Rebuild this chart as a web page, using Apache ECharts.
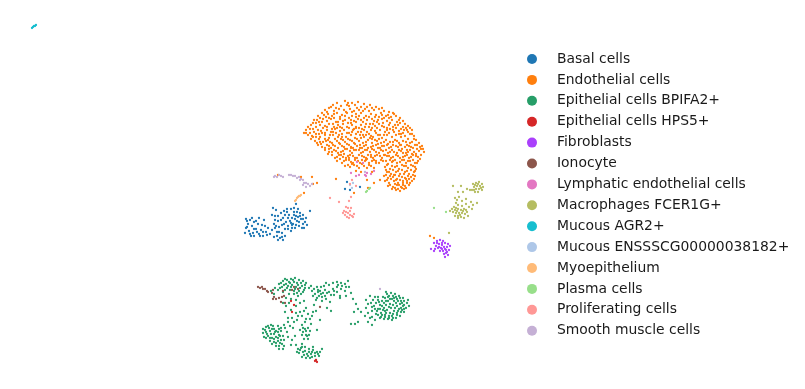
<!DOCTYPE html>
<html>
<head>
<meta charset="utf-8">
<script src="https://cdn.jsdelivr.net/npm/echarts@6/dist/echarts.min.js"></script>
<style>
  html, body { margin: 0; background: #fff; }
  #chart { width: 805px; height: 389px; }
</style>
</head>
<body>
<div id="chart"></div>
<script>
// values, embedding units = picture position
const basal = [[246,228],[245,233],[248,224],[250,220],[252,226],[249,231],[253,233],[256,221],[258,224],[256,229],[259,234],[261,230],[263,236],[262,225],[266,232],[268,228],[270,234],[264,220],[272,230],[275,228],[277,236],[280,238],[283,240],[285,236],[275,216],[278,221],[272,215],[274,224],[279,227],[276,210],[281,213],[284,211],[283,218],[286,222],[282,225],[288,226],[291,231],[289,215],[292,218],[290,221],[294,212],[296,216],[293,224],[297,221],[299,226],[301,219],[303,224],[305,222],[307,225],[300,213],[298,209],[303,215],[294,208],[287,209],[306,218],[285,229],[295,228],[310,211],[273,208],[296,204],[265,226],[259,218],[254,236],[247,221],[282,233],[252,218],[292,225],[298,217],[302,228],[288,218],[281,220],[277,232],[350,190],[347,182],[345,189],[360,187],
  [247,227],[250,234],[254,229],[251,236],[257,232],[260,236],[263,232],[267,235],[246,219],[254,222],[278,216],[285,215],[287,212],[291,209],[294,215],[297,212],[300,216],[303,219],[299,222],[295,219],[291,223],[288,229],[284,224],[279,232],[275,220],[276,226],[304,228],[296,225],[292,228],[282,237],[278,240],[274,237]];
const endothelial = [[337,103],[345,101],[352,103],[358,102],[364,104],[341,106],[349,106],[355,105],[361,107],[370,105],[376,107],[331,107],[325,110],[329,108],[334,111],[339,109],[344,110],[350,109],[354,111],[359,110],[365,109],[369,111],[374,110],[379,109],[384,111],[389,112],[393,113],[322,113],[318,116],[324,115],[328,114],[332,116],[337,113],[342,115],[347,113],[352,116],[356,114],[361,113],[366,116],[371,114],[376,115],[381,113],[386,116],[391,117],[396,116],[400,118],[314,120],[319,122],[323,119],[327,121],[331,119],[336,122],[340,119],[345,120],[349,118],[354,121],[358,119],[363,122],[367,120],[372,119],[377,122],[382,119],[387,121],[392,120],[397,122],[403,121],[311,125],[316,127],[320,125],[325,126],[329,124],[334,127],[338,125],[343,124],[347,127],[352,125],[356,127],[361,125],[365,127],[370,124],[375,126],[379,124],[384,127],[389,125],[393,127],[398,125],[403,127],[408,126],[306,130],[310,129],[314,132],[318,130],[322,133],[327,130],[331,132],[335,129],[340,131],[344,130],[349,133],[353,130],[358,132],[362,129],[367,132],[371,130],[376,133],[380,130],[385,132],[390,129],[399,131],[404,130],[408,132],[412,130],[304,133],[308,135],[312,136],[316,134],[320,137],[325,135],[329,138],[333,135],[338,137],[342,134],[346,137],[351,135],[355,138],[360,135],[364,137],[369,134],[373,137],[378,135],[382,138],[387,135],[392,137],[396,135],[401,137],[405,136],[410,134],[414,136],[311,139],[315,141],[319,139],[323,142],[328,140],[332,143],[337,141],[341,139],[345,142],[350,140],[354,143],[359,141],[363,143],[368,140],[372,143],[377,141],[381,143],[386,140],[390,142],[395,140],[399,143],[403,141],[408,139],[412,142],[416,140],[419,143],[318,145],[322,147],[327,145],[331,148],[335,146],[340,144],[344,147],[349,145],[353,148],[357,146],[362,148],[366,145],[371,147],[376,145],[380,148],[384,146],[389,148],[393,145],[398,147],[402,149],[407,145],[411,147],[415,145],[420,147],[423,149],[325,150],[329,152],[334,150],[338,153],[343,151],[347,149],[352,153],[356,150],[361,153],[365,150],[370,152],[374,150],[379,153],[383,151],[388,153],[392,150],[397,153],[401,151],[406,153],[410,150],[414,152],[419,151],[424,152],[332,155],[337,157],[341,155],[346,158],[350,155],[355,158],[359,155],[364,157],[368,155],[373,158],[377,155],[382,158],[387,156],[391,158],[396,155],[400,158],[405,156],[409,158],[413,155],[418,157],[421,155],[337,161],[342,163],[346,160],[351,162],[355,160],[360,163],[365,161],[369,163],[374,160],[379,163],[383,161],[388,164],[393,161],[397,163],[402,160],[406,163],[410,161],[415,163],[418,161],[345,166],[350,167],[354,165],[359,168],[364,166],[369,165],[374,168],[385,167],[390,169],[395,167],[399,169],[404,166],[408,168],[413,166],[416,169],[356,171],[361,172],[372,172],[387,172],[391,174],[396,172],[400,174],[405,172],[409,174],[414,172],[384,176],[388,178],[393,177],[397,179],[402,177],[406,179],[411,177],[415,176],[385,181],[389,183],[394,181],[398,183],[403,181],[407,183],[412,181],[388,186],[393,187],[397,185],[401,187],[405,186],[409,185],[396,190],[400,191],[404,189],[392,189],[352,112],[334,118],[348,123],[372,139],[360,148],[343,157],[333,132],[316,123],[310,133],[326,141],[339,135],[356,128],[375,117],[387,130],[384,155],[366,160],[351,148],[340,127],[329,146],[378,148],[392,162],[407,150],[401,134],[394,175],[403,185],[369,127],[382,115],[347,105],[356,117],[363,135],[349,158],[371,155],[319,134],[301,177],[312,177],[317,183],[313,184],[278,175],[304,193],[336,179],[367,180],[368,188],[374,183],[380,180],[354,193],[434,238],[430,236],
  [333,105],[348,103],[367,107],[327,112],[336,108],[346,112],[357,108],[363,111],[372,108],[382,108],[388,115],[320,118],[326,117],[334,114],[340,117],[345,116],[351,120],[359,116],[364,118],[369,117],[374,121],[379,117],[384,118],[389,118],[394,114],[399,120],[313,123],[317,120],[322,122],[329,118],[333,124],[338,122],[343,121],[351,123],[356,122],[361,120],[366,124],[373,124],[378,120],[383,123],[390,123],[395,125],[400,123],[405,124],[308,127],[313,129],[323,128],[327,127],[332,129],[337,128],[342,128],[349,128],[354,129],[359,128],[364,130],[372,128],[377,128],[382,126],[387,128],[393,130],[396,128],[401,129],[406,128],[410,128],[306,133],[316,137],[321,131],[325,133],[330,135],[336,133],[342,137],[347,133],[352,132],[356,134],[361,132],[366,135],[371,136],[375,131],[380,135],[384,135],[389,133],[394,132],[399,134],[403,133],[407,130],[412,134],[313,137],[317,143],[321,144],[325,139],[330,142],[335,139],[339,143],[343,140],[348,139],[352,141],[357,139],[361,138],[366,142],[370,138],[375,140],[379,139],[384,142],[388,144],[393,142],[397,141],[401,145],[406,142],[410,143],[414,139],[417,145],[320,142],[325,148],[329,149],[333,145],[338,148],[342,146],[347,144],[351,147],[355,144],[360,145],[364,146],[368,148],[373,146],[378,144],[382,146],[387,145],[391,147],[396,146],[400,145],[405,147],[409,146],[413,148],[417,149],[422,146],[328,154],[332,152],[336,151],[341,152],[345,149],[350,151],[354,150],[359,150],[363,152],[367,150],[372,149],[376,152],[381,150],[386,150],[390,152],[394,152],[399,150],[403,153],[408,152],[412,154],[416,154],[421,149],[335,158],[339,155],[344,154],[348,156],[353,156],[357,158],[362,156],[366,158],[371,157],[375,156],[380,156],[385,155],[389,156],[393,157],[398,156],[403,157],[407,155],[411,157],[416,156],[420,159],[340,159],[344,161],[349,160],[353,163],[358,161],[362,160],[367,159],[372,161],[376,161],[381,160],[386,161],[390,160],[395,160],[400,162],[404,160],[408,161],[413,160],[417,163],[348,165],[352,164],[357,166],[362,164],[367,168],[371,166],[376,163],[387,165],[392,166],[397,166],[402,165],[406,166],[411,165],[415,167],[386,170],[389,172],[393,170],[398,171],[402,170],[407,171],[411,170],[415,171],[386,175],[390,176],[395,175],[399,176],[404,174],[408,176],[413,175],[387,180],[391,179],[396,180],[400,180],[405,178],[409,179],[414,179],[390,185],[395,184],[399,185],[403,183],[407,181],[410,183],[395,188],[398,189],[402,188],[406,188]];
const bpifa = [[271,291],[275,288],[279,284],[283,281],[287,280],[291,279],[295,278],[299,280],[303,281],[306,283],[274,294],[278,290],[282,287],[286,284],[290,283],[294,282],[298,285],[302,286],[305,288],[283,292],[287,288],[291,287],[295,289],[299,291],[303,292],[289,294],[294,294],[298,296],[286,298],[291,299],[296,300],[283,303],[309,288],[312,291],[315,294],[318,290],[321,287],[325,290],[329,285],[333,283],[337,282],[341,283],[345,284],[349,287],[313,296],[317,298],[321,294],[325,296],[329,292],[333,289],[337,287],[341,289],[345,291],[326,299],[322,301],[330,302],[334,295],[340,296],[346,296],[351,293],[318,292],[324,286],[337,292],[353,299],[356,304],[358,309],[361,312],[354,312],[358,322],[351,324],[355,324],[365,316],[368,322],[372,325],[370,318],[375,320],[366,300],[371,303],[375,297],[379,302],[383,297],[387,294],[391,293],[395,294],[399,296],[403,298],[407,303],[409,306],[374,306],[378,309],[382,306],[386,301],[390,299],[394,301],[398,301],[402,303],[406,308],[404,312],[400,316],[396,318],[392,320],[388,319],[384,319],[380,318],[376,314],[372,311],[381,313],[385,311],[389,307],[393,305],[397,306],[401,308],[385,315],[390,313],[394,311],[398,311],[403,306],[378,300],[386,305],[392,316],[388,297],[396,297],[383,310],[375,309],[401,301],[366,308],[370,296],[286,306],[291,310],[296,306],[300,303],[304,301],[292,318],[296,313],[300,312],[304,311],[308,314],[312,316],[316,311],[314,305],[306,319],[302,325],[305,322],[308,328],[303,332],[306,335],[310,331],[304,339],[308,339],[300,330],[288,318],[284,325],[281,328],[288,322],[293,328],[283,336],[266,327],[263,329],[268,326],[271,325],[274,329],[278,326],[266,332],[270,331],[274,334],[278,332],[281,331],[268,336],[272,338],[276,337],[280,336],[284,340],[270,341],[274,342],[278,341],[282,344],[276,346],[279,349],[284,346],[288,337],[292,340],[296,345],[298,349],[301,348],[305,347],[309,349],[313,350],[317,352],[320,352],[303,352],[307,354],[311,354],[315,356],[319,356],[299,353],[302,357],[306,358],[310,358],[316,360],[322,349],[264,337],[272,329],[281,340],[297,320],[317,330],[302,344],[320,320],[327,308],[340,298],[291,345],[295,336],[287,332],[311,324],[331,311],[326,283],[348,281],
  [281,283],[285,279],[289,282],[293,280],[297,283],[301,283],[305,285],[280,288],[284,285],[288,286],[292,285],[296,287],[300,288],[304,290],[285,290],[290,290],[294,291],[297,293],[301,294],[311,286],[314,289],[317,287],[320,291],[323,293],[327,293],[331,295],[334,291],[338,285],[342,286],[346,287],[319,296],[316,300],[322,297],[378,297],[382,301],[385,298],[389,296],[393,296],[397,299],[400,298],[404,301],[372,307],[376,303],[380,305],[384,303],[388,301],[392,299],[396,303],[400,304],[404,305],[377,311],[380,309],[384,308],[387,310],[391,308],[395,308],[399,309],[402,310],[378,315],[382,315],[386,313],[389,316],[393,314],[397,313],[401,312],[381,317],[385,317],[389,318],[393,318],[397,315],[368,304],[373,300],[390,304],[394,298],[386,292],[404,309],[408,300],[368,313],[372,317],[265,330],[269,328],[273,326],[276,331],[279,329],[267,334],[271,334],[275,332],[279,335],[266,338],[270,338],[274,339],[278,338],[272,344],[276,343],[280,343],[279,346],[283,349],[263,333],[306,331],[302,335],[305,329],[307,336],[303,328],[309,335],[302,347],[305,351],[309,352],[312,352],[315,353],[318,354],[300,350],[304,355],[308,356],[312,357],[313,347],[297,352],[302,316],[298,316],[294,322],[310,319],[313,312],[306,308],[285,312],[289,303],[285,328],[290,326]];
const hps5 = [[315,361],[316,360],[317,362],[291,301],[294,305],[292,312]];
const fibroblasts = [[434,243],[437,241],[440,240],[443,241],[436,246],[439,244],[442,245],[445,243],[448,244],[435,249],[438,248],[441,248],[444,247],[447,247],[450,246],[440,251],[443,251],[446,250],[449,250],[444,254],[446,253],[445,257],[431,249],[434,251],[448,255],[442,243],[439,247],[442,249],[445,249],[437,243],[447,252]];
const ionocyte = [[258,287],[260,288],[262,287],[263,289],[265,289],[267,291],[268,292],[272,293],[274,297],[273,299],[276,299],[279,298],[282,297],[273,290],[283,291],[284,296],[281,302],[285,303],[292,290],[294,287],[298,289],[320,307]];
const lymphatic = [[351,173],[359,175],[365,175],[371,174],[374,171],[363,163],[357,162],[356,176],[366,176],[367,173]];
const macrophages = [[473,184],[476,183],[479,182],[482,184],[474,187],[477,186],[480,186],[483,187],[472,190],[476,189],[479,189],[482,190],[475,192],[478,192],[453,186],[461,186],[458,192],[463,192],[467,189],[470,190],[455,198],[459,197],[457,200],[462,201],[466,199],[471,202],[473,205],[456,203],[454,207],[458,205],[462,206],[466,204],[469,207],[472,209],[455,210],[458,209],[461,210],[464,209],[467,212],[453,212],[456,213],[459,213],[462,213],[465,214],[455,216],[458,216],[461,217],[464,218],[468,216],[452,209],[458,218],[477,203],[450,211],[449,233],[475,185],[478,184],[481,188],[474,190],[457,211],[460,215],[463,211],[466,210],[456,208]];
const mucousAgr2 = [[32,28],[33,27],[34,26],[35,26],[36,25]];
const mucousEnss = [[350,185],[352,188],[353,183]];
const myoepithelium = [[296,200],[297,198],[298,197],[299,196],[300,196],[301,195],[295,201]];
const plasma = [[367,191],[369,189],[370,188],[366,192],[434,208],[446,212]];
const proliferating = [[346,207],[348,208],[344,211],[346,212],[343,213],[345,215],[348,213],[350,215],[352,216],[354,214],[353,217],[349,218],[347,217],[350,211],[351,208],[330,198],[339,202],[349,201],[351,197],[350,184],[352,180],[356,186]];
const smoothMuscle = [[275,176],[277,177],[279,175],[281,176],[283,177],[289,175],[291,175],[293,176],[295,176],[297,178],[299,177],[301,179],[303,180],[304,183],[306,183],[308,184],[303,185],[306,187],[310,186],[312,184],[274,177],[300,180],[365,172],[380,289]];

const seriesNames = ["Basal cells","Endothelial cells","Epithelial cells BPIFA2+","Epithelial cells HPS5+","Fibroblasts","Ionocyte","Lymphatic endothelial cells","Macrophages FCER1G+","Mucous AGR2+","Mucous ENSSSCG00000038182+","Myoepithelium","Plasma cells","Proliferating cells","Smooth muscle cells"];
const seriesData = [basal,endothelial,bpifa,hps5,fibroblasts,ionocyte,lymphatic,macrophages,mucousAgr2,mucousEnss,myoepithelium,plasma,proliferating,smoothMuscle];
const colors = ["#1f77b4","#ff7f0e","#279e68","#d62728","#aa40fc","#8c564b","#e377c2","#b5bd61","#17becf","#aec7e8","#ffbb78","#98df8a","#ff9896","#c5b0d5"];

const chart = echarts.init(document.getElementById("chart"));
chart.setOption({
  animation: false,
  color: colors,
  grid: { left: 0, right: 0, top: 0, bottom: 0 },
  xAxis: { type: "value", min: 0, max: 805, show: false },
  yAxis: { type: "value", min: 0, max: 389, inverse: true, show: false },
  legend: {
    data: seriesNames,
    orient: "vertical",
    left: 522,
    top: 46,
    icon: "circle",
    itemWidth: 10,
    itemHeight: 10,
    itemGap: 4.9,
    textStyle: {
      fontFamily: "DejaVu Sans",
      fontSize: 13.9,
      color: "#1a1a1a",
      lineHeight: 16,
      padding: [0, 0, 0, 15],
    },
  },
  series: seriesNames.map((name, i) => ({
    name,
    type: "scatter",
    data: seriesData[i],
    symbolSize: 2.3,
    itemStyle: { opacity: 1 },
    silent: true,
    progressive: 0,
  })),
});
</script>
</body>
</html>
